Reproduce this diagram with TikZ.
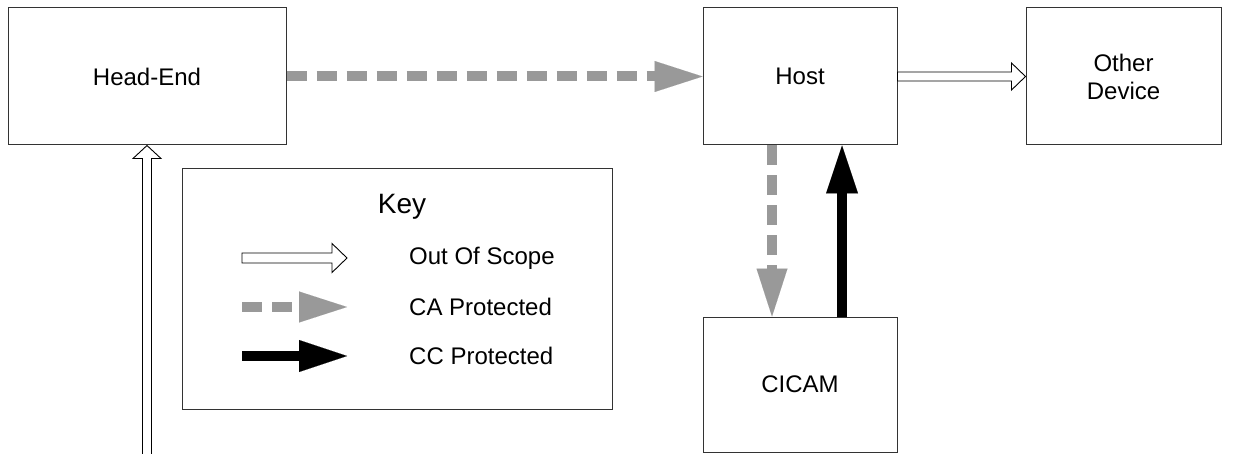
\documentclass[tikz,border=0pt]{standalone}
\usepackage{fontspec}
\setmainfont{Liberation Sans}
\usetikzlibrary{arrows.meta,calc}
\definecolor{cagray}{HTML}{999999}
\definecolor{boxline}{HTML}{333333}
\begin{document}
\begin{tikzpicture}[x=1pt,y=-1pt,
  box/.style={draw=boxline,line width=1pt,fill=white,inner sep=0pt,align=center,
    font=\fontsize{24}{28}\selectfont},
  ca/.style={draw=cagray,line width=10pt,dash pattern=on 20pt off 10pt,
    -{Triangle[length=48pt,width=31pt,line width=0.01pt,fill=cagray,color=cagray]}},
  cc/.style={draw=black,line width=10pt,
    -{Triangle[length=48pt,width=32pt,line width=0.01pt,fill=black]}},
  hollow/.style={draw=black,line width=0.9pt,fill=white,line join=miter},
  keytext/.style={anchor=west,inner sep=0pt,font=\fontsize{24}{28}\selectfont}]
\useasboundingbox (0,0) rectangle (1260,454);

\node[box,minimum width=278pt,minimum height=137pt] (he) at (147,76.5) {Head-End};
\node[box,minimum width=194pt,minimum height=137pt] (host) at (800,76.5) {Host};
\node[box,minimum width=195pt,minimum height=137pt] (oth) at (1123.5,76.5) {Other\\Device};
\node[box,minimum width=194pt,minimum height=135pt] (cicam) at (800,384.5) {CICAM};
\node[box,minimum width=430pt,minimum height=240pt] (key) at (397,289) {};
\node[inner sep=0pt,font=\fontsize{28}{32}\selectfont] (keytitle) at (402,207) {Key};

% Head-End -> Host (CA protected)
\draw[ca] (he.east) -- (host.west);
% Host -> CICAM (CA protected)
\draw[ca] ($(host.south)+(-28,0)$) -- ($(cicam.north)+(-28,0)$);
% CICAM -> Host (CC protected)
\draw[cc] ($(cicam.north)+(42,0)$) -- ($(host.south)+(42,0)$);
% Host -> Other Device (out of scope)
\draw[hollow] ($(host.east)+(0,-4.5)$) -- ($(oth.west)+(-14,-4.5)$) -- ($(oth.west)+(-14,-13.5)$)
  -- (oth.west) -- ($(oth.west)+(-14,13.5)$) -- ($(oth.west)+(-14,4.5)$) -- ($(host.east)+(0,4.5)$) -- cycle;
% feed -> Head-End (out of scope)
\coordinate (feed) at (147,462);
\draw[hollow] ($(feed)+(-4.5,0)$) -- ($(he.south)+(-4.5,13)$) -- ($(he.south)+(-14,13)$)
  -- (he.south) -- ($(he.south)+(14,13)$) -- ($(he.south)+(4.5,13)$) -- ($(feed)+(4.5,0)$);

% Key entries
\coordinate (k1s) at (242,258); \coordinate (k1e) at (347,258);
\coordinate (k2s) at (242,307); \coordinate (k2e) at (347,307);
\coordinate (k3s) at (242,356); \coordinate (k3e) at (347,356);
\draw[hollow] ($(k1s)+(0,-5)$) -- ($(k1e)+(-15,-5)$) -- ($(k1e)+(-15,-14.5)$) -- (k1e)
  -- ($(k1e)+(-15,14.5)$) -- ($(k1e)+(-15,5)$) -- ($(k1s)+(0,5)$) -- cycle;
\draw[ca] (k2s) -- (k2e);
\draw[cc] (k3s) -- (k3e);
\node[keytext] (t1) at (409,258) {Out Of Scope};
\node[keytext] (t2) at (409,307) {CA Protected};
\node[keytext] (t3) at (409,356) {CC Protected};
\end{tikzpicture}
\end{document}
